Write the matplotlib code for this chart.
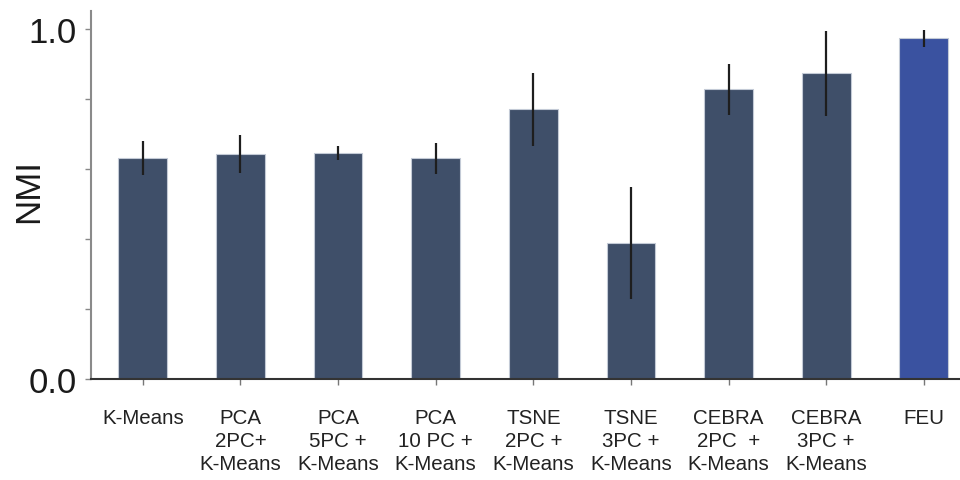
import matplotlib
matplotlib.use("Agg")
import matplotlib.pyplot as plt
import numpy as np

plt.rcParams['font.family'] = ['Liberation Sans', 'DejaVu Sans']

categories = ["K-Means", "PCA\n2PC+\nK-Means", "PCA\n5PC +\nK-Means", "PCA\n10 PC +\nK-Means",
              "TSNE\n2PC +\nK-Means", "TSNE\n3PC +\nK-Means", "CEBRA\n2PC  +\nK-Means",
              "CEBRA\n3PC +\nK-Means", "FEU"]
nmi_mean = [0.631, 0.642, 0.645, 0.630, 0.770, 0.389, 0.827, 0.872, 0.972]
nmi_err = [0.049, 0.053, 0.020, 0.044, 0.104, 0.160, 0.073, 0.122, 0.024]
bar_colors = ["#3f4f69"] * 8 + ["#3a52a0"]

fig = plt.figure(figsize=(9.6, 4.81), dpi=100)
ax = fig.add_axes([0.0948, 0.21, 0.9052, 0.765])

x = np.arange(len(categories))
ax.bar(x, nmi_mean, width=0.5, color=bar_colors, edgecolor="#c3cad6", linewidth=0.8, zorder=2)
ax.errorbar(x, nmi_mean, yerr=nmi_err, fmt='none', ecolor="#1e1e1e", elinewidth=1.6, capsize=0, zorder=3)

ax.set_xlim(-0.53, 8.37)
ax.set_ylim(0, 1.05)
ax.set_yticks([0, 0.2, 0.4, 0.6, 0.8, 1.0])
ax.set_yticklabels(["0.0", "", "", "", "", "1.0"], fontsize=25, color="#1a1a1a")
ax.set_xticks(x)
ax.set_xticklabels(categories, fontsize=14.8, color="#222222", linespacing=1.25)
ax.tick_params(axis='x', length=4, width=1, color="#777777", pad=17)
ax.tick_params(axis='y', length=4, width=1, color="#888888", pad=6)
fig.text(29 / 960, 1 - 191 / 481, "NMI", rotation=90, fontsize=25, color="#1a1a1a",
         ha="center", va="center")

for s in ["top", "right"]:
    ax.spines[s].set_visible(False)
ax.spines["left"].set_color("#8a8a8a")
ax.spines["left"].set_linewidth(1.5)
ax.spines["bottom"].set_color("#333333")
ax.spines["bottom"].set_linewidth(1.5)

fig.savefig("out.png", dpi=100)
